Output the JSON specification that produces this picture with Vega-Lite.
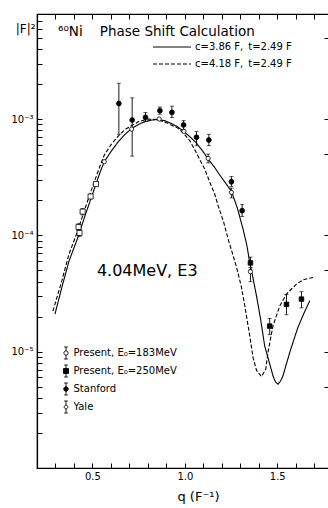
{
  "$schema": "https://vega.github.io/schema/vega-lite/v6.json",
  "width": 292,
  "height": 454,
  "autosize": {"type": "none"},
  "padding": {"left": 37, "top": 14, "right": 0, "bottom": 40},
  "background": "white",
  "config": {
    "view": {"stroke": "black", "strokeWidth": 1.2},
    "font": "DejaVu Sans",
    "axis": {"domainColor": "black", "domainWidth": 1.2, "tickColor": "black", "tickWidth": 1, "labelColor": "black", "titleColor": "black", "grid": false, "labelFont": "DejaVu Sans", "titleFont": "DejaVu Sans", "titleFontWeight": "normal", "labelOverlap": false, "labelFlush": false, "labelBound": false}
  },
  "title": {"text": "⁶⁰Ni\u00a0\u00a0\u00a0\u00a0Phase Shift Calculation", "anchor": "start", "frame": "group", "orient": "top", "offset": -40, "dx": 21, "baseline": "alphabetic", "fontSize": 13.5, "fontWeight": "normal", "font": "DejaVu Sans", "color": "black"},
  "datasets": {
    "curves": [
      {"model": "c=3.86 F,\u2002t=2.49 F", "q": 0.297, "f": 2.1e-5},
      {"model": "c=3.86 F,\u2002t=2.49 F", "q": 0.335, "f": 3.6e-5},
      {"model": "c=3.86 F,\u2002t=2.49 F", "q": 0.373, "f": 6.0e-5},
      {"model": "c=3.86 F,\u2002t=2.49 F", "q": 0.418, "f": 9.3e-5},
      {"model": "c=3.86 F,\u2002t=2.49 F", "q": 0.465, "f": 1.56e-4},
      {"model": "c=3.86 F,\u2002t=2.49 F", "q": 0.5, "f": 2.25e-4},
      {"model": "c=3.86 F,\u2002t=2.49 F", "q": 0.541, "f": 3.48e-4},
      {"model": "c=3.86 F,\u2002t=2.49 F", "q": 0.564, "f": 4.3e-4},
      {"model": "c=3.86 F,\u2002t=2.49 F", "q": 0.6, "f": 5.25e-4},
      {"model": "c=3.86 F,\u2002t=2.49 F", "q": 0.638, "f": 6.34e-4},
      {"model": "c=3.86 F,\u2002t=2.49 F", "q": 0.675, "f": 7.35e-4},
      {"model": "c=3.86 F,\u2002t=2.49 F", "q": 0.712, "f": 8.28e-4},
      {"model": "c=3.86 F,\u2002t=2.49 F", "q": 0.75, "f": 9.0e-4},
      {"model": "c=3.86 F,\u2002t=2.49 F", "q": 0.784, "f": 9.5e-4},
      {"model": "c=3.86 F,\u2002t=2.49 F", "q": 0.82, "f": 9.8e-4},
      {"model": "c=3.86 F,\u2002t=2.49 F", "q": 0.856, "f": 9.9e-4},
      {"model": "c=3.86 F,\u2002t=2.49 F", "q": 0.89, "f": 9.7e-4},
      {"model": "c=3.86 F,\u2002t=2.49 F", "q": 0.924, "f": 9.2e-4},
      {"model": "c=3.86 F,\u2002t=2.49 F", "q": 0.96, "f": 8.6e-4},
      {"model": "c=3.86 F,\u2002t=2.49 F", "q": 0.991, "f": 7.9e-4},
      {"model": "c=3.86 F,\u2002t=2.49 F", "q": 1.025, "f": 7.1e-4},
      {"model": "c=3.86 F,\u2002t=2.49 F", "q": 1.059, "f": 6.3e-4},
      {"model": "c=3.86 F,\u2002t=2.49 F", "q": 1.093, "f": 5.4e-4},
      {"model": "c=3.86 F,\u2002t=2.49 F", "q": 1.126, "f": 4.53e-4},
      {"model": "c=3.86 F,\u2002t=2.49 F", "q": 1.158, "f": 3.9e-4},
      {"model": "c=3.86 F,\u2002t=2.49 F", "q": 1.189, "f": 3.3e-4},
      {"model": "c=3.86 F,\u2002t=2.49 F", "q": 1.22, "f": 2.82e-4},
      {"model": "c=3.86 F,\u2002t=2.49 F", "q": 1.252, "f": 2.4e-4},
      {"model": "c=3.86 F,\u2002t=2.49 F", "q": 1.285, "f": 1.7e-4},
      {"model": "c=3.86 F,\u2002t=2.49 F", "q": 1.315, "f": 1.13e-4},
      {"model": "c=3.86 F,\u2002t=2.49 F", "q": 1.335, "f": 8.3e-5},
      {"model": "c=3.86 F,\u2002t=2.49 F", "q": 1.351, "f": 5.86e-5},
      {"model": "c=3.86 F,\u2002t=2.49 F", "q": 1.37, "f": 4.2e-5},
      {"model": "c=3.86 F,\u2002t=2.49 F", "q": 1.388, "f": 3.0e-5},
      {"model": "c=3.86 F,\u2002t=2.49 F", "q": 1.41, "f": 1.9e-5},
      {"model": "c=3.86 F,\u2002t=2.49 F", "q": 1.432, "f": 1.12e-5},
      {"model": "c=3.86 F,\u2002t=2.49 F", "q": 1.455, "f": 8.3e-6},
      {"model": "c=3.86 F,\u2002t=2.49 F", "q": 1.477, "f": 6.2e-6},
      {"model": "c=3.86 F,\u2002t=2.49 F", "q": 1.49, "f": 5.5e-6},
      {"model": "c=3.86 F,\u2002t=2.49 F", "q": 1.504, "f": 5.26e-6},
      {"model": "c=3.86 F,\u2002t=2.49 F", "q": 1.518, "f": 5.6e-6},
      {"model": "c=3.86 F,\u2002t=2.49 F", "q": 1.531, "f": 6.2e-6},
      {"model": "c=3.86 F,\u2002t=2.49 F", "q": 1.55, "f": 7.9e-6},
      {"model": "c=3.86 F,\u2002t=2.49 F", "q": 1.568, "f": 9.9e-6},
      {"model": "c=3.86 F,\u2002t=2.49 F", "q": 1.59, "f": 1.27e-5},
      {"model": "c=3.86 F,\u2002t=2.49 F", "q": 1.612, "f": 1.62e-5},
      {"model": "c=3.86 F,\u2002t=2.49 F", "q": 1.645, "f": 2.15e-5},
      {"model": "c=3.86 F,\u2002t=2.49 F", "q": 1.676, "f": 2.74e-5},
      {"model": "c=4.18 F,\u2002t=2.49 F", "q": 0.286, "f": 2.23e-5},
      {"model": "c=4.18 F,\u2002t=2.49 F", "q": 0.335, "f": 4.1e-5},
      {"model": "c=4.18 F,\u2002t=2.49 F", "q": 0.373, "f": 6.9e-5},
      {"model": "c=4.18 F,\u2002t=2.49 F", "q": 0.418, "f": 1.07e-4},
      {"model": "c=4.18 F,\u2002t=2.49 F", "q": 0.465, "f": 1.8e-4},
      {"model": "c=4.18 F,\u2002t=2.49 F", "q": 0.5, "f": 2.6e-4},
      {"model": "c=4.18 F,\u2002t=2.49 F", "q": 0.541, "f": 3.95e-4},
      {"model": "c=4.18 F,\u2002t=2.49 F", "q": 0.564, "f": 4.9e-4},
      {"model": "c=4.18 F,\u2002t=2.49 F", "q": 0.6, "f": 6.0e-4},
      {"model": "c=4.18 F,\u2002t=2.49 F", "q": 0.638, "f": 7.1e-4},
      {"model": "c=4.18 F,\u2002t=2.49 F", "q": 0.675, "f": 8.1e-4},
      {"model": "c=4.18 F,\u2002t=2.49 F", "q": 0.712, "f": 8.8e-4},
      {"model": "c=4.18 F,\u2002t=2.49 F", "q": 0.75, "f": 9.5e-4},
      {"model": "c=4.18 F,\u2002t=2.49 F", "q": 0.8, "f": 1.0e-3},
      {"model": "c=4.18 F,\u2002t=2.49 F", "q": 0.85, "f": 9.9e-4},
      {"model": "c=4.18 F,\u2002t=2.49 F", "q": 0.9, "f": 9.3e-4},
      {"model": "c=4.18 F,\u2002t=2.49 F", "q": 0.96, "f": 8.4e-4},
      {"model": "c=4.18 F,\u2002t=2.49 F", "q": 0.995, "f": 7.5e-4},
      {"model": "c=4.18 F,\u2002t=2.49 F", "q": 1.027, "f": 6.5e-4},
      {"model": "c=4.18 F,\u2002t=2.49 F", "q": 1.06, "f": 5.2e-4},
      {"model": "c=4.18 F,\u2002t=2.49 F", "q": 1.108, "f": 3.7e-4},
      {"model": "c=4.18 F,\u2002t=2.49 F", "q": 1.135, "f": 2.86e-4},
      {"model": "c=4.18 F,\u2002t=2.49 F", "q": 1.16, "f": 2.3e-4},
      {"model": "c=4.18 F,\u2002t=2.49 F", "q": 1.18, "f": 1.8e-4},
      {"model": "c=4.18 F,\u2002t=2.49 F", "q": 1.21, "f": 1.3e-4},
      {"model": "c=4.18 F,\u2002t=2.49 F", "q": 1.234, "f": 9.3e-5},
      {"model": "c=4.18 F,\u2002t=2.49 F", "q": 1.26, "f": 6.8e-5},
      {"model": "c=4.18 F,\u2002t=2.49 F", "q": 1.28, "f": 5.3e-5},
      {"model": "c=4.18 F,\u2002t=2.49 F", "q": 1.306, "f": 3.6e-5},
      {"model": "c=4.18 F,\u2002t=2.49 F", "q": 1.324, "f": 2.5e-5},
      {"model": "c=4.18 F,\u2002t=2.49 F", "q": 1.351, "f": 1.37e-5},
      {"model": "c=4.18 F,\u2002t=2.49 F", "q": 1.369, "f": 8.9e-6},
      {"model": "c=4.18 F,\u2002t=2.49 F", "q": 1.388, "f": 6.9e-6},
      {"model": "c=4.18 F,\u2002t=2.49 F", "q": 1.415, "f": 6.1e-6},
      {"model": "c=4.18 F,\u2002t=2.49 F", "q": 1.438, "f": 7.1e-6},
      {"model": "c=4.18 F,\u2002t=2.49 F", "q": 1.45, "f": 9.9e-6},
      {"model": "c=4.18 F,\u2002t=2.49 F", "q": 1.477, "f": 1.67e-5},
      {"model": "c=4.18 F,\u2002t=2.49 F", "q": 1.514, "f": 2.48e-5},
      {"model": "c=4.18 F,\u2002t=2.49 F", "q": 1.55, "f": 3.13e-5},
      {"model": "c=4.18 F,\u2002t=2.49 F", "q": 1.604, "f": 3.81e-5},
      {"model": "c=4.18 F,\u2002t=2.49 F", "q": 1.64, "f": 4.15e-5},
      {"model": "c=4.18 F,\u2002t=2.49 F", "q": 1.694, "f": 4.35e-5}
    ],
    "points": [
      {"series": "Present, E₀=183MeV", "q": 0.564, "f": 4.3e-4},
      {"series": "Present, E₀=183MeV", "q": 0.712, "f": 8.2e-4},
      {"series": "Present, E₀=183MeV", "q": 0.861, "f": 1.0e-3},
      {"series": "Present, E₀=183MeV", "q": 0.995, "f": 7.84e-4},
      {"series": "Present, E₀=183MeV", "q": 1.126, "f": 4.59e-4, "lo": 4.2e-4, "hi": 5.0e-4},
      {"series": "Present, E₀=183MeV", "q": 1.252, "f": 2.34e-4, "lo": 2.1e-4, "hi": 2.55e-4},
      {"series": "Present, E₀=183MeV", "q": 1.355, "f": 4.87e-5, "lo": 4.0e-5, "hi": 5.3e-5},
      {"series": "Present, E₀=250MeV", "q": 1.355, "f": 5.8e-5, "lo": 5.1e-5, "hi": 6.5e-5},
      {"series": "Present, E₀=250MeV", "q": 1.459, "f": 1.66e-5, "lo": 1.4e-5, "hi": 1.93e-5},
      {"series": "Present, E₀=250MeV", "q": 1.55, "f": 2.55e-5, "lo": 2.08e-5, "hi": 3.1e-5},
      {"series": "Present, E₀=250MeV", "q": 1.631, "f": 2.83e-5, "lo": 2.38e-5, "hi": 3.28e-5},
      {"series": "Stanford", "q": 0.643, "f": 1.36e-3, "lo": 7.4e-4, "hi": 2.03e-3},
      {"series": "Stanford", "q": 0.715, "f": 9.8e-4, "lo": 4.8e-4, "hi": 1.52e-3},
      {"series": "Stanford", "q": 0.787, "f": 1.035e-3, "lo": 9.5e-4, "hi": 1.14e-3},
      {"series": "Stanford", "q": 0.865, "f": 1.18e-3, "lo": 1.1e-3, "hi": 1.27e-3},
      {"series": "Stanford", "q": 0.93, "f": 1.14e-3, "lo": 1.03e-3, "hi": 1.29e-3},
      {"series": "Stanford", "q": 0.993, "f": 8.9e-4, "lo": 8.1e-4, "hi": 9.7e-4},
      {"series": "Stanford", "q": 1.063, "f": 6.97e-4, "lo": 5.9e-4, "hi": 7.8e-4},
      {"series": "Stanford", "q": 1.13, "f": 6.6e-4, "lo": 5.9e-4, "hi": 7.4e-4},
      {"series": "Stanford", "q": 1.252, "f": 2.89e-4, "lo": 2.64e-4, "hi": 3.2e-4},
      {"series": "Stanford", "q": 1.31, "f": 1.63e-4, "lo": 1.45e-4, "hi": 1.84e-4},
      {"series": "Yale", "q": 0.425, "f": 1.18e-4, "lo": 1.1e-4, "hi": 1.26e-4},
      {"series": "Yale", "q": 0.43, "f": 1.05e-4, "lo": 9.8e-5, "hi": 1.12e-4},
      {"series": "Yale", "q": 0.447, "f": 1.6e-4, "lo": 1.5e-4, "hi": 1.7e-4},
      {"series": "Yale", "q": 0.49, "f": 2.16e-4},
      {"series": "Yale", "q": 0.519, "f": 2.76e-4}
    ]
  },
  "resolve": {
    "axis": {"x": "independent", "y": "independent"},
    "scale": {"shape": "independent", "fill": "independent", "size": "independent"}
  },
  "layer": [
    {
      "data": {"name": "curves"},
      "mark": {"type": "line", "color": "black", "strokeWidth": 1.1},
      "encoding": {
        "x": {
          "field": "q", "type": "quantitative",
          "scale": {"domain": [0.2, 1.78], "nice": false, "zero": false},
          "axis": {
            "orient": "bottom",
            "values": [0.2, 0.3, 0.4, 0.5, 0.6, 0.7, 0.8, 0.9, 1.0, 1.1, 1.2, 1.3, 1.4, 1.5, 1.6, 1.7],
            "tickSize": -5, "labelPadding": 8, "labelFontSize": 10,
            "labelExpr": "abs(datum.value-0.5)<0.01 ? '0.5' : abs(datum.value-1)<0.01 ? '1.0' : abs(datum.value-1.5)<0.01 ? '1.5' : ''",
            "title": "q (F⁻¹)", "titleFontSize": 13, "titleX": 161, "titleY": 22, "titleBaseline": "top", "titleAlign": "center"
          }
        },
        "y": {
          "field": "f", "type": "quantitative",
          "scale": {"type": "log", "domain": [1e-6, 0.008], "nice": false},
          "axis": {
            "orient": "left",
            "values": [1e-6, 2e-6, 3e-6, 4e-6, 5e-6, 6e-6, 7e-6, 8e-6, 9e-6, 1e-5, 2e-5, 3e-5, 4e-5, 5e-5, 6e-5, 7e-5, 8e-5, 9e-5, 1e-4, 2e-4, 3e-4, 4e-4, 5e-4, 6e-4, 7e-4, 8e-4, 9e-4, 1e-3, 2e-3, 3e-3, 4e-3, 5e-3, 6e-3, 7e-3, 8e-3],
            "tickSize": -5,
            "labelPadding": 9, "labelFontSize": 10,
            "labelExpr": "abs(datum.value-0.001)<1e-6 ? '10⁻³' : abs(datum.value-0.0001)<1e-7 ? '10⁻⁴' : abs(datum.value-0.00001)<1e-8 ? '10⁻⁵' : ''",
            "title": "|F|²", "titleAngle": 0, "titleX": -2, "titleY": 18, "titleAlign": "right", "titleBaseline": "alphabetic", "titleFontSize": 12
          }
        },
        "strokeDash": {
          "field": "model", "type": "nominal",
          "scale": {"domain": ["c=3.86 F,\u2002t=2.49 F", "c=4.18 F,\u2002t=2.49 F"], "range": [[1, 0], [4, 2]]},
          "legend": {"orient": "none", "legendX": 128.5, "legendY": 26.5, "title": null, "symbolType": "M-3.17,0H3.17", "symbolSize": 144, "symbolStrokeColor": "black", "symbolStrokeWidth": 1, "symbolFillColor": "transparent", "labelFontSize": 10, "labelOffset": 16.5, "rowPadding": 5, "labelColor": "black", "labelFont": "DejaVu Sans", "labelLimit": 300}
        }
      }
    },
    {
      "data": {"name": "points"},
      "transform": [{"filter": "isValid(datum.lo)"}],
      "mark": {"type": "errorbar", "color": "black", "thickness": 0.9, "ticks": {"size": 4, "color": "black"}},
      "encoding": {
        "x": {"field": "q", "type": "quantitative", "scale": {"domain": [0.2, 1.78], "nice": false, "zero": false}, "axis": null},
        "y": {"field": "lo", "type": "quantitative", "scale": {"type": "log", "domain": [1e-6, 0.008], "nice": false}, "axis": null},
        "y2": {"field": "hi"}
      }
    },
    {
      "data": {"name": "points"},
      "mark": {"type": "point", "filled": true, "stroke": "black", "strokeWidth": 0.8, "opacity": 1},
      "encoding": {
        "x": {
          "field": "q", "type": "quantitative", "scale": {"domain": [0.2, 1.78], "nice": false, "zero": false},
          "axis": {"orient": "top", "values": [0.3, 0.4, 0.5, 0.6, 0.7, 0.8, 0.9, 1.0, 1.1, 1.2, 1.3, 1.4, 1.5, 1.6, 1.7], "tickSize": -5, "labels": false, "title": null}
        },
        "y": {
          "field": "f", "type": "quantitative", "scale": {"type": "log", "domain": [1e-6, 0.008], "nice": false},
          "axis": {"orient": "right", "values": [1e-6, 5e-6, 1e-5, 5e-5, 1e-4, 5e-4, 1e-3, 5e-3], "tickSize": -5, "labels": false, "title": null}
        },
        "shape": {"field": "series", "type": "nominal", "scale": {"domain": ["Present, E₀=183MeV", "Present, E₀=250MeV", "Stanford", "Yale"], "range": ["circle", "square", "circle", "square"]}, "legend": null},
        "fill": {"field": "series", "type": "nominal", "scale": {"domain": ["Present, E₀=183MeV", "Present, E₀=250MeV", "Stanford", "Yale"], "range": ["white", "black", "black", "white"]}, "legend": null},
        "size": {"field": "series", "type": "nominal", "scale": {"domain": ["Present, E₀=183MeV", "Present, E₀=250MeV", "Stanford", "Yale"], "range": [18, 26, 20, 11]}, "legend": null}
      }
    },
    {
      "data": {"name": "points"},
      "mark": {"type": "point", "filled": true, "stroke": "black", "strokeWidth": 0.9, "opacity": 0},
      "encoding": {
        "x": {"field": "q", "type": "quantitative", "scale": {"domain": [0.2, 1.78], "nice": false, "zero": false}, "axis": null},
        "y": {"field": "f", "type": "quantitative", "scale": {"type": "log", "domain": [1e-6, 0.008], "nice": false}, "axis": null},
        "shape": {
          "field": "series", "type": "nominal",
          "scale": {"domain": ["Present, E₀=183MeV", "Present, E₀=250MeV", "Stanford", "Yale"], "range": [
            "M0,-1V-0.35M0,0.35V1M-0.3,-1H0.3M-0.3,1H0.3M-0.35,0A0.35,0.35,0,1,1,0.35,0A0.35,0.35,0,1,1,-0.35,0Z",
            "M0,-1V1M-0.3,-1H0.3M-0.3,1H0.3M-0.42,-0.42H0.42V0.42H-0.42Z",
            "M0,-1V1M-0.3,-1H0.3M-0.3,1H0.3M-0.38,0A0.38,0.38,0,1,1,0.38,0A0.38,0.38,0,1,1,-0.38,0Z",
            "M0,-1V-0.3M0,0.3V1M-0.3,-1H0.3M-0.3,1H0.3M-0.3,0A0.3,0.3,0,1,1,0.3,0A0.3,0.3,0,1,1,-0.3,0Z"
          ]},
          "legend": {"orient": "none", "legendX": 22.5, "legendY": 332.5, "title": null, "symbolSize": 144, "symbolStrokeColor": "black", "symbolStrokeWidth": 0.9, "symbolOpacity": 1, "labelFontSize": 10, "labelOffset": 1, "rowPadding": 1, "labelColor": "black", "labelFont": "DejaVu Sans", "labelLimit": 300,
            "encode": {"symbols": {"update": {"stroke": {"value": "black"}, "strokeWidth": {"value": 0.9}, "opacity": {"value": 1}, "strokeOpacity": {"value": 1}}}}}
        },
        "fill": {
          "field": "series", "type": "nominal",
          "scale": {"domain": ["Present, E₀=183MeV", "Present, E₀=250MeV", "Stanford", "Yale"], "range": ["white", "black", "black", "white"]},
          "legend": {"orient": "none", "legendX": 22.5, "legendY": 332.5, "title": null, "symbolSize": 144, "symbolStrokeColor": "black", "symbolStrokeWidth": 0.9, "symbolOpacity": 1, "labelFontSize": 10, "labelOffset": 1, "rowPadding": 1, "labelColor": "black", "labelFont": "DejaVu Sans", "labelLimit": 300,
            "encode": {"symbols": {"update": {"stroke": {"value": "black"}, "strokeWidth": {"value": 0.9}, "opacity": {"value": 1}, "strokeOpacity": {"value": 1}}}}}
        }
      }
    },
    {
      "data": {"values": [{"label": "4.04MeV, E3"}]},
      "mark": {"type": "text", "align": "left", "baseline": "middle", "fontSize": 16, "font": "DejaVu Sans", "color": "black"},
      "encoding": {
        "x": {"datum": 0.524, "type": "quantitative", "scale": {"domain": [0.2, 1.78], "nice": false, "zero": false}, "axis": null},
        "y": {"datum": 4.93e-5, "type": "quantitative", "scale": {"type": "log", "domain": [1e-6, 0.008], "nice": false}, "axis": null},
        "text": {"field": "label"}
      }
    }
  ]
}
